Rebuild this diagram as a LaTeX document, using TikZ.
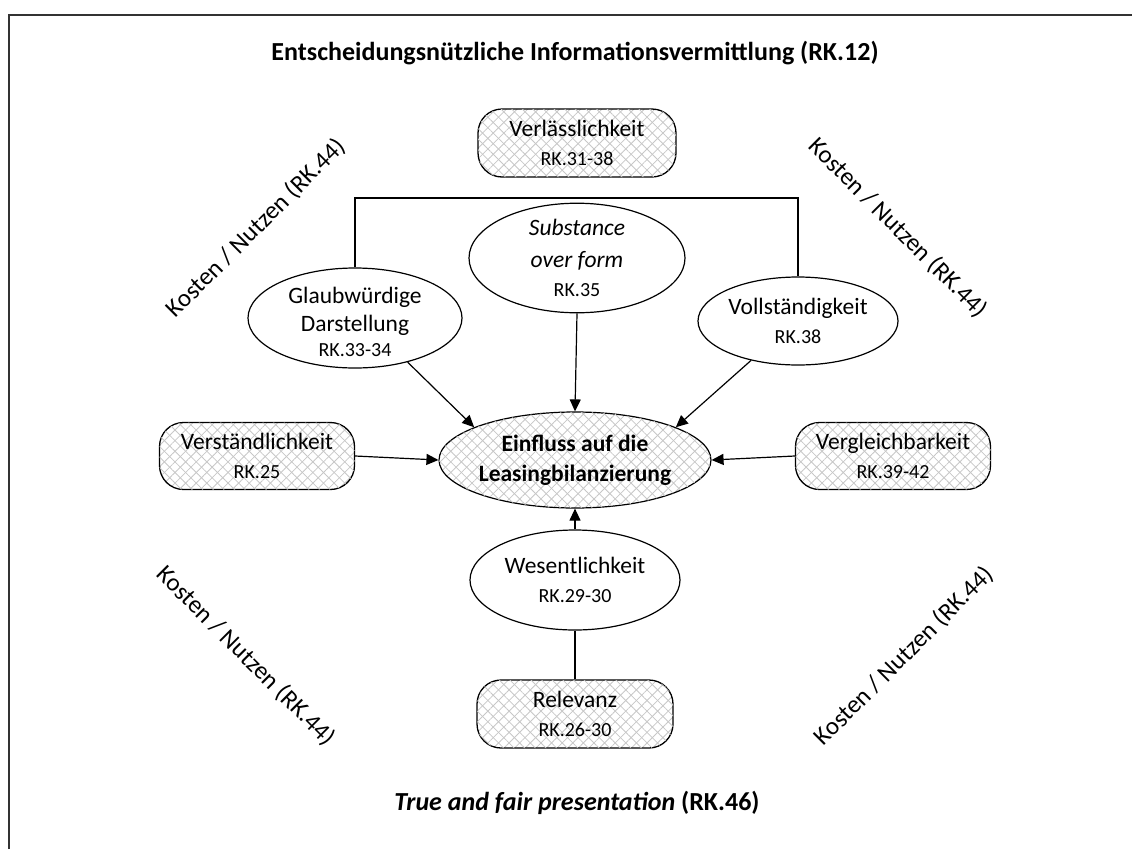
\documentclass[tikz,border=0pt]{standalone}
\usepackage{fontspec}
\setmainfont{Carlito}
\usetikzlibrary{shapes.geometric,patterns.meta,arrows.meta}
\newcommand\rkf{\fontsize{20}{24}\selectfont}
\begin{document}
\begin{tikzpicture}[x=1pt,y=-1pt,
  hatch/.style={pattern={Lines[angle=45,distance=7.5pt,line width=0.8pt]},pattern color=black!22,
     postaction={pattern={Lines[angle=-45,distance=7.5pt,line width=0.8pt]},pattern color=black!22}},
  rbox/.style={draw,line width=1.3pt,rounded corners=24pt,minimum width=198pt,minimum height=68pt,
     align=center,inner sep=0pt,font=\fontsize{23.5}{29}\selectfont,hatch},
  ell/.style={ellipse,draw,line width=1.2pt,align=center,inner sep=0pt,fill=white,font=\fontsize{23.5}{29}\selectfont},
  conn/.style={line width=1.2pt},
  arr/.style={line width=1.2pt,-{Triangle[length=12pt,width=11pt]}},
  kn/.style={font=\fontsize{25}{30}\selectfont,inner sep=0pt}]
\useasboundingbox (0,0) rectangle (1132,849);
\draw[line width=2.2pt,black!80] (9,849) -- (9,15) -- (1132,15);
\node[font=\bfseries\fontsize{26}{30}\selectfont] (title) at (575,53) {Entscheidungsnützliche Informationsvermittlung (RK.12)};
\node[rbox] (verl) at (577,143) {Verlässlichkeit\\{\rkf RK.31-38}};
\node[ell,minimum width=216pt,minimum height=108pt] (subst) at (577,258) {\itshape Substance\\[3pt]\itshape over form\\{\rkf RK.35}};
\node[ell,minimum width=214pt,minimum height=100pt] (glaub) at (355,318) {};
\node[align=center,font=\fontsize{23.5}{29}\selectfont,inner sep=0pt] (glaubt) at (355,322) {Glaubwürdige\\[-1pt]Darstellung\\[-4pt]{\rkf RK.33-34}};
\node[ell,minimum width=200pt,minimum height=88pt] (voll) at (798,321) {Vollständigkeit\\{\rkf RK.38}};
\node[ell,minimum width=246pt,minimum height=96pt,hatch,font=\bfseries\fontsize{23.5}{30}\selectfont] (einf) at (575,460) {Einfluss auf die\\Leasingbilanzierung};
\node[rbox,minimum width=195pt,minimum height=67pt] (verst) at (257,456) {Verständlichkeit\\{\rkf RK.25}};
\node[rbox,minimum width=195pt,minimum height=67pt] (vergl) at (893,456) {Vergleichbarkeit\\{\rkf RK.39-42}};
\node[ell,minimum width=210pt,minimum height=100pt] (wes) at (575,580) {Wesentlichkeit\\{\rkf RK.29-30}};
\node[rbox,minimum width=196pt,minimum height=68pt] (rel) at (575,714) {Relevanz\\{\rkf RK.26-30}};
\coordinate (jn) at (577,198);
\draw[conn] (glaub.north) -- (glaub.north |- jn) -- (voll.north |- jn) -- (voll.north);
\draw[arr] (subst.south) -- (einf.north);
\draw[arr] (glaub.-40) -- (einf.162);
\draw[arr] (voll.-140) -- (einf.18);
\draw[arr] (verst.east) -- (einf.west);
\draw[arr] (vergl.west) -- (einf.east);
\draw[arr] (wes.north) -- (einf.south);
\draw[conn] (wes.south) -- (rel.north);
\node[kn,rotate=45] (k1) at (256,228) {Kosten / Nutzen (RK.44)};
\node[kn,rotate=-45] (k2) at (898,228) {Kosten / Nutzen (RK.44)};
\node[kn,rotate=-45] (k3) at (246,656) {Kosten / Nutzen (RK.44)};
\node[kn,rotate=45] (k4) at (904,656) {Kosten / Nutzen (RK.44)};
\node[font=\bfseries\fontsize{26}{30}\selectfont] (foot) at (577,803) {\itshape True and fair presentation \upshape(RK.46)};
\end{tikzpicture}
\end{document}
